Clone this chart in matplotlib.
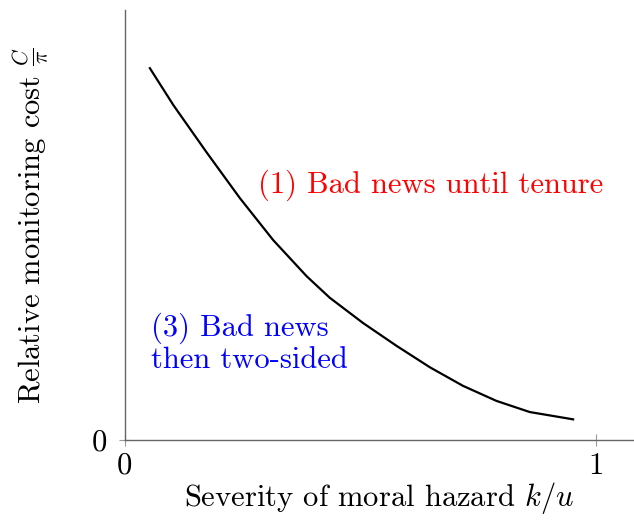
import matplotlib
matplotlib.use("Agg")
import matplotlib.pyplot as plt

plt.rcParams['font.family'] = 'serif'
plt.rcParams['font.serif'] = ['cmr10']
plt.rcParams['mathtext.fontset'] = 'cm'
plt.rcParams['axes.unicode_minus'] = False
plt.rcParams['axes.formatter.use_mathtext'] = True

# curve
severity = [0.053, 0.103, 0.173, 0.244, 0.315, 0.386, 0.435, 0.506, 0.577,
            0.648, 0.718, 0.789, 0.860, 0.952]
cost = [0.865, 0.779, 0.670, 0.563, 0.465, 0.381, 0.331, 0.272, 0.219,
        0.169, 0.126, 0.091, 0.065, 0.048]

fig = plt.figure(figsize=(6.34, 5.21), dpi=100)
ax = fig.add_axes([0.197, 0.1555, 0.801, 0.825])

ax.plot(severity, cost, color='black', lw=1.6, solid_joinstyle='round')

ax.set_xlim(0, 1.0786)
ax.set_ylim(0, 1)
ax.spines['top'].set_visible(False)
ax.spines['right'].set_visible(False)
for s in ['left', 'bottom']:
    ax.spines[s].set_color('#666666')
    ax.spines[s].set_linewidth(1.0)

ax.set_xticks([0, 1])
ax.set_xticklabels(['0', '1'])
ax.set_yticks([0])
ax.set_yticklabels(['0'])
ax.tick_params(direction='inout', length=8, color='#999999', labelsize=22)
ax.tick_params(axis='x', pad=5)
ax.tick_params(axis='y', pad=9)

ax.set_xlabel('Severity of moral hazard $k/u$', fontsize=22, labelpad=0)
ax.set_ylabel(r'Relative monitoring cost $\frac{C}{\pi}$', fontsize=22)
ax.yaxis.set_label_coords(-0.148, 0.5)

ax.text(0.282, 0.592, '(1) Bad news until tenure', color='red', fontsize=22,
        va='center', ha='left')
ax.text(0.055, 0.225, '(3) Bad news\nthen two-sided', color='blue', fontsize=22,
        va='center', ha='left', linespacing=1.1)

fig.savefig('out.png', dpi=100)
